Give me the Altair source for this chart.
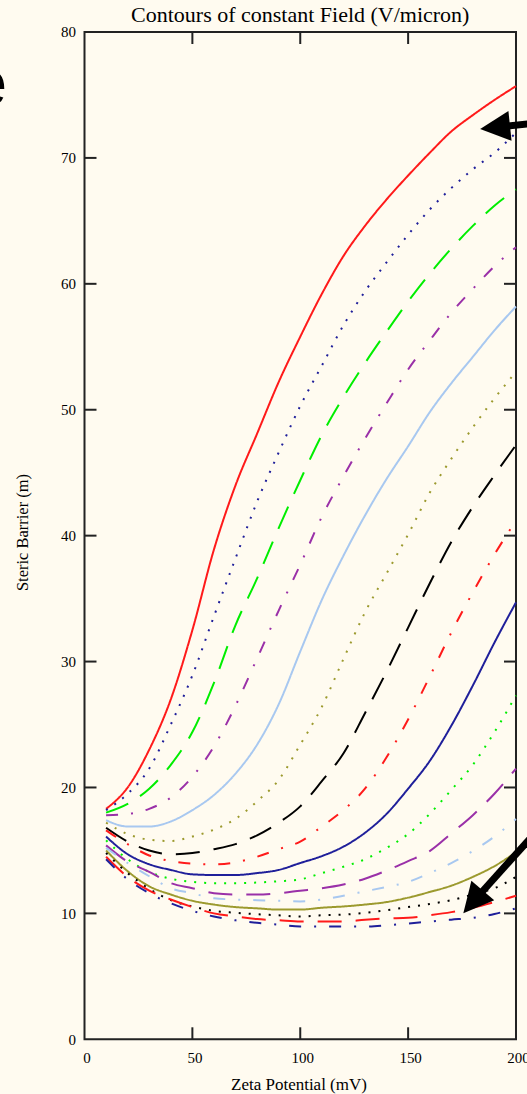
import altair as alt
import pandas as pd

# ---------------- data ----------------
zeta = [10, 20, 30, 40, 50, 60, 70, 80, 90, 100, 110, 120, 130, 140, 150, 160, 170, 180, 190, 200]

s01 = [18.3, 20.0, 23.0, 27.0, 32.5, 38.9, 44.0, 48.1, 52.2, 55.8, 59.2, 62.2, 64.6, 66.7, 68.6, 70.4, 72.1, 73.4, 74.6, 75.7]
s02 = [18.2, 19.5, 21.5, 25.0, 28.9, 33.6, 38.2, 42.7, 46.6, 50.3, 53.5, 56.7, 59.4, 61.7, 63.9, 65.9, 67.6, 69.1, 70.4, 72.0]
s03 = [18.0, 18.7, 19.9, 21.8, 24.4, 28.3, 32.9, 36.6, 40.6, 44.4, 48.0, 51.0, 53.7, 56.2, 58.6, 60.8, 62.8, 64.6, 66.2, 67.5]
s04 = [17.8, 17.9, 18.3, 19.2, 20.85, 23.25, 26.5, 30.25, 34.05, 37.7, 41.5, 44.7, 47.7, 50.5, 53.2, 55.5, 57.7, 59.6, 61.4, 62.9]
s05 = [17.4, 16.9, 16.9, 17.3, 18.2, 19.4, 21.1, 23.4, 26.6, 30.8, 34.9, 38.4, 41.6, 44.5, 47.1, 49.8, 52.1, 54.2, 56.3, 58.2]
s06 = [17.2, 16.3, 15.85, 15.75, 16.1, 16.65, 17.5, 18.9, 20.6, 23.4, 26.4, 30.2, 33.9, 37.0, 40.1, 43.4, 46.1, 48.6, 50.9, 53.0]
s07 = [16.8, 15.7, 15.0, 14.7, 14.8, 15.1, 15.5, 16.2, 17.2, 18.5, 20.5, 22.7, 25.9, 29.2, 32.7, 36.2, 39.5, 42.3, 44.8, 47.2]
s08 = [16.6, 15.5, 14.6, 14.15, 13.95, 13.9, 14.05, 14.5, 15.1, 15.7, 16.9, 18.2, 19.9, 22.4, 25.4, 28.8, 32.3, 35.5, 38.5, 41.2]
s09 = [16.1, 14.7, 13.9, 13.45, 13.1, 13.05, 13.05, 13.2, 13.45, 14.0, 14.55, 15.3, 16.4, 17.9, 19.9, 22.1, 24.9, 28.1, 31.5, 34.7]
s10 = [15.8, 14.3, 13.3, 12.75, 12.5, 12.4, 12.4, 12.45, 12.55, 12.7, 13.2, 13.7, 14.3, 15.2, 16.3, 17.9, 19.8, 21.8, 24.4, 27.3]
s11 = [15.4, 14.1, 13.3, 12.4, 12.0, 11.6, 11.5, 11.5, 11.6, 11.8, 12.0, 12.3, 12.75, 13.4, 14.15, 14.95, 16.35, 17.8, 19.5, 21.5]
s12 = [15.2, 14.0, 12.95, 12.0, 11.6, 11.2, 11.1, 11.05, 11.0, 10.95, 11.1, 11.4, 11.75, 12.1, 12.5, 13.2, 14.0, 14.95, 16.1, 17.5]
s13 = [15.0, 13.35, 12.15, 11.5, 11.0, 10.7, 10.5, 10.4, 10.3, 10.3, 10.45, 10.55, 10.7, 10.9, 11.25, 11.7, 12.2, 12.9, 13.75, 14.85]
s14 = [14.8, 13.2, 11.95, 11.05, 10.55, 10.2, 10.05, 9.93, 9.85, 9.75, 9.85, 9.9, 10.05, 10.25, 10.5, 10.75, 11.05, 11.5, 12.0, 12.9]
s15 = [14.5, 12.9, 11.8, 11.1, 10.5, 10.0, 9.75, 9.55, 9.45, 9.35, 9.35, 9.35, 9.5, 9.6, 9.65, 9.85, 10.1, 10.45, 10.9, 11.4]
s16 = [14.3, 12.7, 11.6, 10.8, 10.2, 9.75, 9.45, 9.25, 9.1, 8.95, 8.95, 8.95, 8.95, 9.05, 9.2, 9.35, 9.5, 9.65, 9.95, 10.4]

series_values = [s01, s02, s03, s04, s05, s06, s07, s08, s09, s10, s11, s12, s13, s14, s15, s16]
series_names = [f"Contour {i}" for i in range(1, 17)]

x_tick_labels = [0, 50, 100, 150, 200]
y_tick_labels = [0, 10, 20, 30, 40, 50, 60, 70, 80]
x_inner_ticks = [50, 100, 150]
y_inner_ticks = [10, 20, 30, 40, 50, 60, 70]

# annotation arrows (data coordinates): tail, head centre, head direction
arrow_tail_x = [208.8, 213.4]
arrow_tail_y = [72.77, 17.26]
arrow_head_x = [190.3, 180.1]
arrow_head_y = [72.42, 10.91]
arrow_angle = [174, 130.5]

# partial slide letter at the top left
letter_text = ["e"]
letter_x = [-35.9]
letter_y = [74.2]

# ---------------- styles ----------------
palette = ["#ff1a1a", "#1f1f9a", "#00ee00", "#9a30a8", "#a8c8f0", "#9c9a2e", "#000000"]
dash_cycle = [[1, 0], [2, 8], [24, 14], [12, 13, 2, 13]]
colors = [palette[i % 7] for i in range(16)]
dashes = [dash_cycle[i % 4] for i in range(16)]

rows = []
for name, vals in zip(series_names, series_values):
    for xv, yv in zip(zeta, vals):
        rows.append({"series": name, "zeta": xv, "barrier": yv})
df = pd.DataFrame(rows)

W, H = 431.5, 1007.3
FRAME = "#222222"
BG = "#FFFBF0"
SERIF = "Liberation Serif"
TL = 12

xscale = alt.Scale(domain=[0, 200], nice=False, zero=False)
yscale = alt.Scale(domain=[0, 80], nice=False, zero=False)

x_axis = alt.Axis(
    values=x_tick_labels, ticks=False, domain=False, grid=False,
    labelFont=SERIF, labelFontSize=15, labelColor="black", labelPadding=11,
    labelFlush=False, labelOverlap=False, labelOffset=2,
    title="Zeta Potential (mV)", titleFont=SERIF, titleFontSize=17,
    titleFontWeight="normal", titleColor="black", titleY=50, titleX=214,
    titleBaseline="alphabetic")
y_axis = alt.Axis(
    values=y_tick_labels, ticks=False, domain=False, grid=False,
    labelFont=SERIF, labelFontSize=15, labelColor="black", labelPadding=9,
    labelFlush=False, labelOverlap=False,
    title="Steric Barrier (m)", titleFont=SERIF, titleFontSize=16.5,
    titleFontWeight="normal", titleColor="black", titleX=-62, titleY=500,
    titleAngle=270, titleAlign="center", titleBaseline="middle")

lines = alt.Chart(df).mark_line(strokeWidth=2, interpolate="monotone", strokeCap="butt").encode(
    x=alt.X("zeta:Q", scale=xscale, axis=x_axis),
    y=alt.Y("barrier:Q", scale=yscale, axis=y_axis),
    color=alt.Color("series:N", scale=alt.Scale(domain=series_names, range=colors), legend=None),
    strokeDash=alt.StrokeDash("series:N", scale=alt.Scale(domain=series_names, range=dashes), legend=None),
)

xt = pd.DataFrame({"zeta": x_inner_ticks})
yt = pd.DataFrame({"barrier": y_inner_ticks})
tick_style = dict(color=FRAME, strokeWidth=2)
tick_bottom = alt.Chart(xt).mark_rule(**tick_style).encode(
    x=alt.X("zeta:Q", scale=xscale, axis=x_axis), y=alt.value(H), y2=alt.value(H - TL))
tick_top = alt.Chart(xt).mark_rule(**tick_style).encode(
    x=alt.X("zeta:Q", scale=xscale, axis=x_axis), y=alt.value(0), y2=alt.value(TL))
tick_left = alt.Chart(yt).mark_rule(**tick_style).encode(
    y=alt.Y("barrier:Q", scale=yscale, axis=y_axis), x=alt.value(0), x2=alt.value(TL))
tick_right = alt.Chart(yt).mark_rule(**tick_style).encode(
    y=alt.Y("barrier:Q", scale=yscale, axis=y_axis), x=alt.value(W), x2=alt.value(W - TL))

arr = pd.DataFrame({"zeta": arrow_tail_x, "barrier": arrow_tail_y, "hx": arrow_head_x,
                    "hy": arrow_head_y, "ang": arrow_angle})
shafts = alt.Chart(arr).mark_rule(color="black", strokeWidth=7).encode(
    x=alt.X("zeta:Q", scale=xscale, axis=x_axis), y=alt.Y("barrier:Q", scale=yscale, axis=y_axis),
    x2="hx:Q", y2="hy:Q")
heads_df = pd.DataFrame({"zeta": arrow_head_x, "barrier": arrow_head_y, "ang": arrow_angle})
heads = alt.Chart(heads_df).mark_point(shape="M1,0L-1,-1L-1,1Z", filled=True, size=900,
                                       color="black", opacity=1, strokeWidth=0).encode(
    x=alt.X("zeta:Q", scale=xscale, axis=x_axis), y=alt.Y("barrier:Q", scale=yscale, axis=y_axis),
    angle=alt.Angle("ang:Q", scale=None))

letter = alt.Chart(pd.DataFrame({"t": letter_text, "zeta": letter_x, "barrier": letter_y})).mark_text(
    font="Liberation Sans", fontSize=64, align="right", baseline="alphabetic", color="black").encode(
    x=alt.X("zeta:Q", scale=xscale, axis=x_axis), y=alt.Y("barrier:Q", scale=yscale, axis=y_axis),
    text="t:N")

chart = alt.layer(lines, tick_bottom, tick_top, tick_left, tick_right, shafts, heads, letter).properties(
    width=W, height=H,
    autosize=alt.AutoSizeParams(type="none"),
    padding={"left": 84.5, "top": 32, "right": 11, "bottom": 55},
    background=BG,
    title=alt.TitleParams("Contours of constant Field (V/micron)", font=SERIF, fontSize=22,
                          fontWeight="normal", color="black", anchor="middle", frame="group",
                          offset=-19, baseline="alphabetic"),
).configure_view(stroke=FRAME, strokeWidth=2, fill=BG)

chart.save("out.html", embed_options={"renderer": "svg", "actions": False})
